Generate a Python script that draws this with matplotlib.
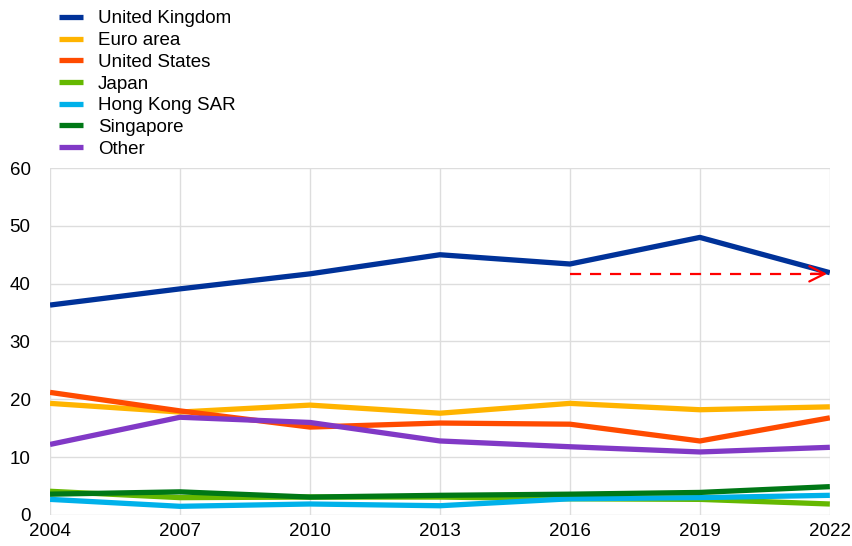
import matplotlib
matplotlib.use('Agg')
import matplotlib.pyplot as plt

plt.rcParams['font.family'] = ['Liberation Sans', 'DejaVu Sans']

years = [2004, 2007, 2010, 2013, 2016, 2019, 2022]

united_kingdom = [36.3, 39.1, 41.7, 45.0, 43.4, 48.0, 41.9]
euro_area = [19.3, 17.8, 19.0, 17.6, 19.3, 18.2, 18.7]
united_states = [21.2, 18.0, 15.2, 15.9, 15.7, 12.8, 16.8]
japan = [4.1, 3.0, 3.1, 3.1, 2.8, 2.7, 1.9]
hong_kong = [2.7, 1.5, 1.9, 1.6, 2.8, 3.0, 3.4]
singapore = [3.6, 4.0, 3.1, 3.4, 3.6, 3.9, 4.9]
other = [12.2, 16.9, 16.0, 12.8, 11.8, 10.9, 11.7]

series_names = ['United Kingdom', 'Euro area', 'United States', 'Japan',
                'Hong Kong SAR', 'Singapore', 'Other']
series_values = [united_kingdom, euro_area, united_states, japan,
                 hong_kong, singapore, other]
colors = ['#003299', '#FFB400', '#FF4B00', '#65B800', '#00B1EA', '#007816', '#8139C6']

# dashed reference arrow (level of UK share in 2022, from 2016)
arrow_start = 2016
arrow_end = 2022
arrow_level = 41.7

fig = plt.figure(figsize=(8.52, 5.46), dpi=100)
ax = fig.add_axes([0.0587, 0.0568, 0.9153, 0.6355])

lines = []
for name, vals, c in zip(series_names, series_values, colors):
    ln, = ax.plot(years, vals, color=c, lw=3.8, label=name, solid_capstyle='butt')
    lines.append(ln)

ax.plot([arrow_start, arrow_end - 0.15], [arrow_level, arrow_level],
        color='red', lw=1.6, ls=(0, (5, 4)))
ax.annotate('', xy=(arrow_end, arrow_level), xytext=(arrow_end - 0.5, arrow_level),
            arrowprops=dict(arrowstyle='->,head_length=1.1,head_width=0.55',
                            color='red', lw=1.6))

ax.set_xlim(2004, 2022)
ax.set_ylim(0, 60)
ax.set_xticks(years)
ax.set_yticks(range(0, 61, 10))
ax.grid(True, color='#dddddd', lw=1)
ax.set_axisbelow(True)
for s in ax.spines.values():
    s.set_visible(False)
ax.tick_params(length=0, labelsize=13.5, pad=6)
ax.tick_params(axis='y', pad=14)

fig.legend(handles=lines, loc='upper left', bbox_to_anchor=(0.060, 0.995),
           frameon=False, fontsize=13.5, handlelength=1.3, handletextpad=0.8,
           labelspacing=0.245, borderaxespad=0)

plt.savefig('out.png', dpi=100)
plt.close()
